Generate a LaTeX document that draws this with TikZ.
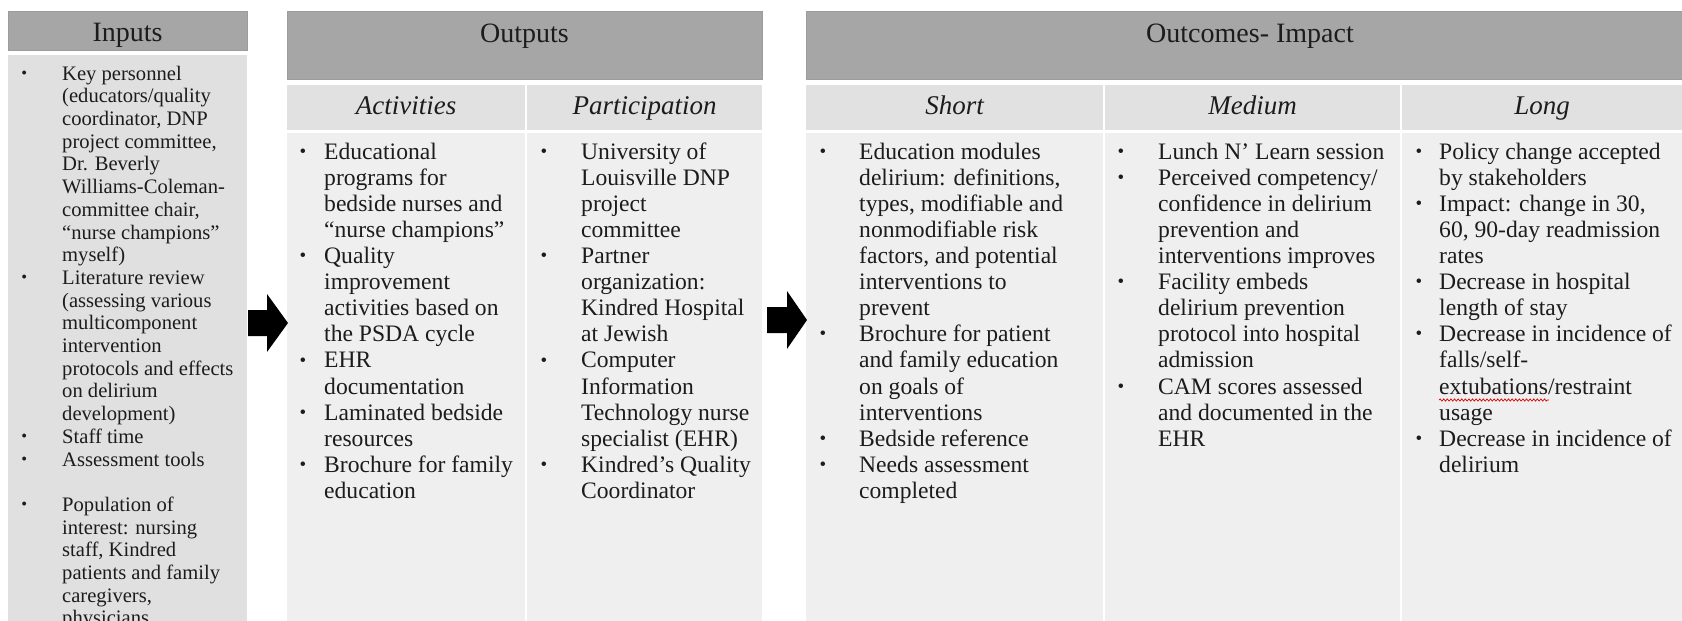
\documentclass[tikz,border=0pt]{standalone}
\usepackage{fontspec}
\setmainfont{Liberation Serif}
\usetikzlibrary{decorations.pathmorphing}
\definecolor{hdrfill}{HTML}{A6A6A6}
\definecolor{hdredge}{HTML}{9C9C9C}
\definecolor{subfill}{HTML}{E1E1E1}
\definecolor{bodyfill}{HTML}{EFEFEF}
\definecolor{infill}{HTML}{E0E0E0}
\definecolor{ink}{HTML}{1C1C1C}
\newcommand{\bu}[1]{\llap{\raisebox{0.08em}{\scalebox{0.8}{\textbullet}}\hspace{#1pt}}}
\tikzset{
  hdrbox/.style={fill=hdrfill, draw=hdredge, line width=0.8pt},
  subbox/.style={fill=subfill},
  bodybox/.style={fill=bodyfill},
  inbox/.style={fill=infill},
  htext/.style={font=\fontsize{28}{32}\selectfont, text=ink, inner sep=0pt, anchor=base},
  stext/.style={font=\fontsize{27}{30}\selectfont\itshape, text=ink, inner sep=0pt, anchor=base},
  coltext/.style={font=\fontsize{23.6}{26.1}\selectfont, text=ink, inner sep=0pt, align=left, anchor=north west},
  intext/.style={font=\fontsize{20.6}{22.7}\selectfont, text=ink, inner sep=0pt, align=left, anchor=north west},
  blockarrow/.style={fill=black},
  spell/.style={draw=red!85!black, line width=0.7pt, decorate, decoration={snake, amplitude=1.1pt, segment length=3.6pt}}
}
\begin{document}
\begin{tikzpicture}[x=1pt,y=-1pt]
\useasboundingbox (0,0) rectangle (1682,621);
\clip (0,0) rectangle (1682,621);
% ---------- Inputs ----------
\path[hdrbox] (8,11) rectangle (247,50);
\path[inbox] (8,55) rectangle (247,621);
\node[htext] (inH) at (127.5,41) {Inputs};
\node[intext] (inT) at (62,64.1) {\strut\bu{35}Key personnel\\
(educators/quality\\
coordinator, DNP\\
project committee,\\
Dr. Beverly\\
Williams-Coleman-\\
committee chair,\\
“nurse champions”\\
myself)\\
\bu{35}Literature review\\
(assessing various\\
multicomponent\\
intervention\\
protocols and effects\\
on delirium\\
development)\\
\bu{35}Staff time\\
\bu{35}Assessment tools\\
\strut\\
\bu{35}Population of\\
interest: nursing\\
staff, Kindred\\
patients and family\\
caregivers,\\
physicians};
% ---------- Outputs ----------
\path[hdrbox] (287,11) rectangle (762,79);
\node[htext] (outH) at (524.5,42) {Outputs};
\path[subbox] (287,85) rectangle (525,130);
\path[subbox] (527,85) rectangle (762,130);
\node[stext] (actH) at (406,114) {Activities};
\node[stext] (parH) at (644.5,114) {Participation};
\path[bodybox] (287,133) rectangle (525,621);
\path[bodybox] (527,133) rectangle (762,621);
\node[coltext] (actT) at (324,140.7) {\strut\bu{18}Educational\\
programs for\\
bedside nurses and\\
“nurse champions”\\
\bu{18}Quality\\
improvement\\
activities based on\\
the PSDA cycle\\
\bu{18}EHR\\
documentation\\
\bu{18}Laminated bedside\\
resources\\
\bu{18}Brochure for family\\
education};
\node[coltext] (parT) at (581,140.7) {\strut\bu{34}University of\\
Louisville DNP\\
project\\
committee\\
\bu{34}Partner\\
organization:\\
Kindred Hospital\\
at Jewish\\
\bu{34}Computer\\
Information\\
Technology nurse\\
specialist (EHR)\\
\bu{34}Kindred’s Quality\\
Coordinator};
% ---------- Outcomes ----------
\path[hdrbox] (806,11) rectangle (1690,79);
\node[htext] (outcH) at (1250,42) {Outcomes- Impact};
\path[subbox] (806,85) rectangle (1103,130);
\path[subbox] (1105,85) rectangle (1400,130);
\path[subbox] (1402,85) rectangle (1690,130);
\node[stext] (shH) at (954.5,114) {Short};
\node[stext] (meH) at (1252.5,114) {Medium};
\node[stext] (loH) at (1542,114) {Long};
\path[bodybox] (806,133) rectangle (1103,621);
\path[bodybox] (1105,133) rectangle (1400,621);
\path[bodybox] (1402,133) rectangle (1690,621);
\node[coltext] (shT) at (859,140.7) {\strut\bu{33}Education modules\\
delirium: definitions,\\
types, modifiable and\\
nonmodifiable risk\\
factors, and potential\\
interventions to\\
prevent\\
\bu{33}Brochure for patient\\
and family education\\
on goals of\\
interventions\\
\bu{33}Bedside reference\\
\bu{33}Needs assessment\\
completed};
\node[coltext] (meT) at (1158,140.7) {\strut\bu{34}Lunch N’ Learn session\\
\bu{34}Perceived competency/\\
confidence in delirium\\
prevention and\\
interventions improves\\
\bu{34}Facility embeds\\
delirium prevention\\
protocol into hospital\\
admission\\
\bu{34}CAM scores assessed\\
and documented in the\\
EHR};
\node[coltext] (loT) at (1439,140.7) {\strut\bu{17}Policy change accepted\\
by stakeholders\\
\bu{17}Impact: change in 30,\\
60, 90-day readmission\\
rates\\
\bu{17}Decrease in hospital\\
length of stay\\
\bu{17}Decrease in incidence of\\
falls/self-\\
extubations/restraint\\
usage\\
\bu{17}Decrease in incidence of\\
delirium};
\coordinate (spA) at (1439,400);
\coordinate (spB) at (1549,400);
\draw[spell] (spA) -- (spB);
% ---------- block arrows ----------
\fill[blockarrow] (248,310) -- (267,310) -- (267,294) -- (288,323) -- (267,352) -- (267,336) -- (248,336) -- cycle;
\fill[blockarrow] (767,307) -- (787,307) -- (787,291) -- (807,320) -- (787,349) -- (787,333) -- (767,333) -- cycle;
\end{tikzpicture}
\end{document}
